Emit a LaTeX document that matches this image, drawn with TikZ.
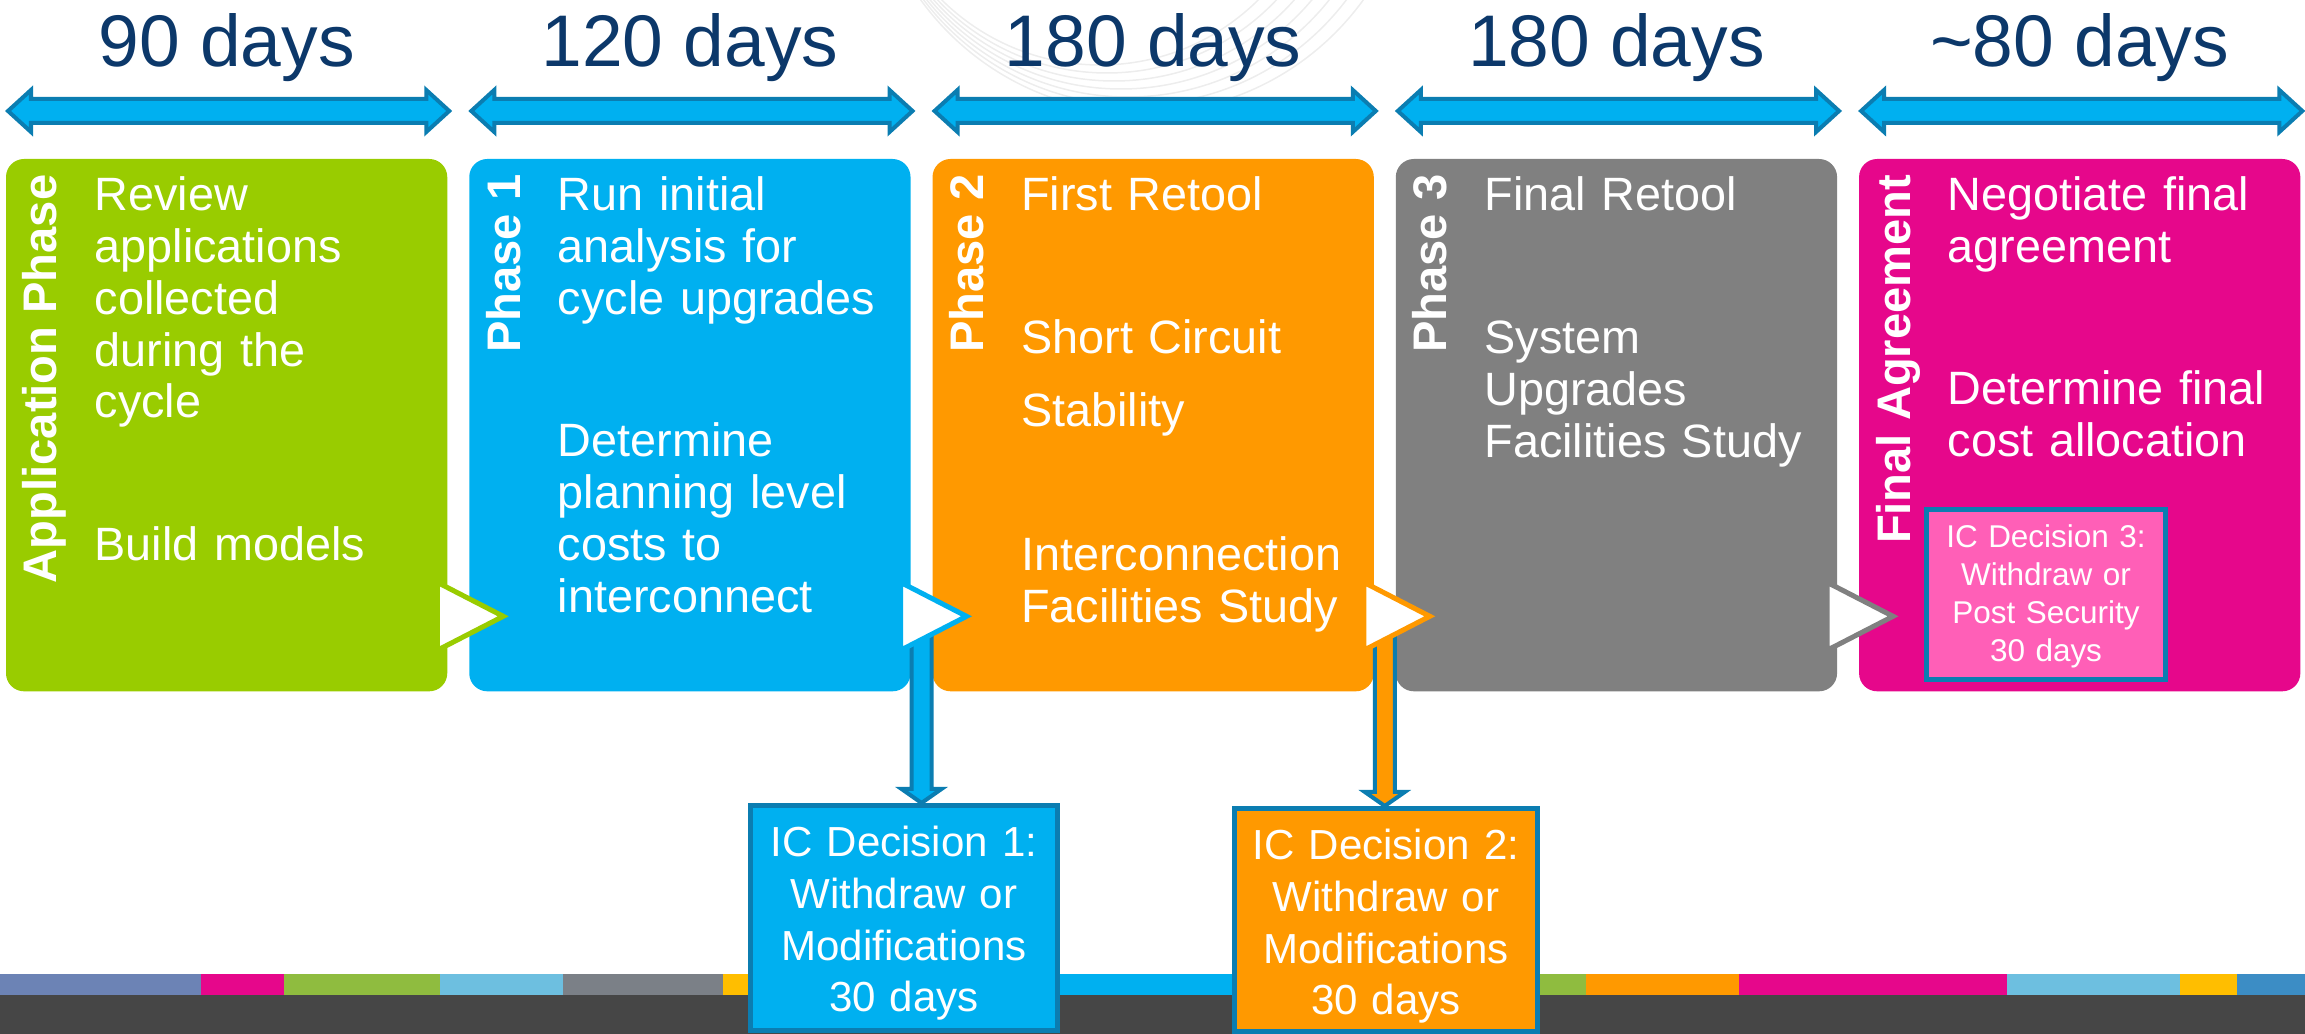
\documentclass[tikz,border=0pt]{standalone}
\usepackage{fontspec}
\setmainfont{Liberation Sans}
\usetikzlibrary{positioning,calc}

\definecolor{appgreen}{HTML}{99CC00}
\definecolor{ph1blue}{HTML}{00B0F0}
\definecolor{ph2orange}{HTML}{FF9900}
\definecolor{ph3gray}{HTML}{808080}
\definecolor{finpink}{HTML}{E6078B}
\definecolor{decpink}{HTML}{FF5FB7}
\definecolor{linkblue}{HTML}{0B7DB1}
\definecolor{spannavy}{HTML}{0C386A}
\definecolor{footgray}{HTML}{464646}
\definecolor{stripeslate}{HTML}{6C83B5}
\definecolor{stripegreen}{HTML}{8FBC3F}
\definecolor{stripesky}{HTML}{6DBFE0}
\definecolor{stripegray}{HTML}{7B8087}
\definecolor{stripegold}{HTML}{FFBE00}
\definecolor{stripesteel}{HTML}{3C8DC5}

\newcommand{\bodyfont}{\fontsize{13.3pt}{14.7pt}\selectfont}
\newcommand{\tagfont}{\fontsize{13.4pt}{14pt}\selectfont\bfseries}
\newcommand{\spanfont}{\fontsize{20.8pt}{24pt}\selectfont}
\newcommand{\decfont}{\fontsize{11.95pt}{14.65pt}\selectfont}
\newcommand{\decsmallfont}{\fontsize{8.95pt}{10.8pt}\selectfont}

\tikzset{
  phasebox/.style={rounded corners=0.18cm, minimum width=4.41cm, minimum height=5.32cm, inner sep=0pt, outer sep=0pt},
  tag/.style={rotate=90, anchor=base east, inner sep=0pt, text=white, font=\tagfont},
  body/.style={anchor=base west, inner sep=0pt, text=white, font=\bodyfont, align=left, text width=3.5cm},
  span/.style={anchor=base, inner sep=0pt, text=spannavy, font=\spanfont},
  spanarrow/.style={draw=linkblue, line width=0.04cm, fill=ph1blue, line join=miter},
  decbox/.style={draw=linkblue, line width=0.05cm, inner sep=0pt, text=white, align=center, anchor=base},
  vlink/.style={draw=linkblue, line width=0.04cm, line join=miter},
  chevron/.style={fill=white, line width=0.05cm, line join=miter},
}

\begin{document}
\begin{tikzpicture}[x=0.01cm, y=-0.01cm]

\useasboundingbox (0,0) rectangle (2305,1034);
\clip (0,0) rectangle (2305,1034);

% faint arcs behind the headings
\foreach \k in {0,...,6} \draw[gray!14, line width=0.015cm] (1100+7*\k,-160) circle [radius=225+8*\k];

% footer
\fill[footgray] (0,995) rectangle (2305,1034);
\foreach \a/\b/\c in {0/201/stripeslate, 201/284/finpink, 284/440/stripegreen, 440/563/stripesky, 563/723/stripegray, 723/750/stripegold, 750/1232/ph1blue, 1232/1540/ph2orange, 1540/1586/stripegreen, 1586/1739/ph2orange, 1739/2007/finpink, 2007/2180/stripesky, 2180/2237/stripegold, 2237/2305/stripesteel}
  \fill[\c] (\a,974) rectangle (\b,995);

% phase boxes
\node[phasebox, fill=appgreen, anchor=north west] (app) at (6,159) {};
\node[phasebox, fill=ph1blue, right=0.22cm of app] (ph1) {};
\node[phasebox, fill=ph2orange, right=0.22cm of ph1] (ph2) {};
\node[phasebox, fill=ph3gray, right=0.22cm of ph2] (ph3) {};
\node[phasebox, fill=finpink, right=0.22cm of ph3] (fin) {};

% durations
\foreach \b/\t in {app/90 days, ph1/120 days, ph2/180 days, ph3/180 days, fin/\textasciitilde80 days}
  \node[span] (t-\b) at ($(\b.north)+(0,-92)$) {\t};

\foreach \b in {app,ph1,ph2,ph3,fin}{
  \coordinate (l) at ($(\b.north west)+(2,-48)$);
  \coordinate (r) at ($(\b.north east)+(2,-48)$);
  \draw[spanarrow] (l) -- ($(l)+(23,-21)$) -- ($(l)+(23,-12)$) -- ($(r)+(-23,-12)$) -- ($(r)+(-23,-21)$) -- (r)
    -- ($(r)+(-23,21)$) -- ($(r)+(-23,12)$) -- ($(l)+(23,12)$) -- ($(l)+(23,21)$) -- cycle;
}

% phase names
\foreach \b/\t in {app/Application Phase, ph1/Phase 1, ph2/Phase 2, ph3/Phase 3, fin/Final Agreement}
  \node[tag] (tag-\b) at ($(\b.north west)+(51,15)$) {\t};

% box contents
\node[body] (app-a) at ($(app.north west)+(88,52)$) {Review\\applications\\collected\\during the\\cycle};
\node[body] (app-b) at ($(app.north west)+(88,402)$) {Build models};
\node[body] (ph1-a) at ($(ph1.north west)+(88,52)$) {Run initial\\analysis for\\cycle upgrades};
\node[body] (ph1-b) at ($(ph1.north west)+(88,298)$) {Determine\\planning level\\costs to\\interconnect};
\node[body] (ph2-a) at ($(ph2.north west)+(88,52)$) {First Retool};
\node[body] (ph2-b) at ($(ph2.north west)+(88,195)$) {Short Circuit};
\node[body] (ph2-c) at ($(ph2.north west)+(88,268)$) {Stability};
\node[body] (ph2-d) at ($(ph2.north west)+(88,412)$) {Interconnection\\Facilities Study};
\node[body] (ph3-a) at ($(ph3.north west)+(88,52)$) {Final Retool};
\node[body] (ph3-b) at ($(ph3.north west)+(88,195)$) {System\\Upgrades\\Facilities Study};
\node[body] (fin-a) at ($(fin.north west)+(88,52)$) {Negotiate final\\agreement};
\node[body] (fin-b) at ($(fin.north west)+(88,246)$) {Determine final\\cost allocation};

% decisions
\node[decbox, fill=ph1blue, text width=3.06cm, text height=0.515cm, text depth=1.73cm, font=\decfont] (dec1) at (904,857) {IC Decision 1:\\Withdraw or\\Modifications\\30 days};
\node[decbox, fill=ph2orange, text width=3.02cm, text height=0.515cm, text depth=1.71cm, font=\decfont] (dec2) at (1386,860) {IC Decision 2:\\Withdraw or\\Modifications\\30 days};

\coordinate (gap1) at ($(ph1.south east)!0.5!(ph2.south west)$);
\coordinate (end1) at (gap1 |- dec1.north);
\draw[vlink, fill=ph1blue] ($(gap1)+(-10,-60)$) -- ($(end1)+(-10,-14)$) -- ($(end1)+(-20,-14)$) -- (end1)
  -- ($(end1)+(20,-14)$) -- ($(end1)+(10,-14)$) -- ($(gap1)+(10,-60)$) -- cycle;

\coordinate (gap2) at ($(ph2.south east)!0.5!(ph3.south west)$);
\coordinate (end2) at (gap2 |- dec2.north);
\draw[vlink, fill=ph2orange] ($(gap2)+(-10,-60)$) -- ($(end2)+(-10,-14)$) -- ($(end2)+(-20,-14)$) -- (end2)
  -- ($(end2)+(20,-14)$) -- ($(end2)+(10,-14)$) -- ($(gap2)+(10,-60)$) -- cycle;

% chevrons between phases
\foreach \b/\c in {app/appgreen, ph1/ph1blue, ph2/ph2orange, ph3/ph3gray}
  \draw[chevron, draw=\c] ($(\b.south east)+(-10,-109)$) -- ($(\b.south east)+(56,-75)$) -- ($(\b.south east)+(-10,-41)$) -- cycle;

\node[decbox, fill=decpink, text width=2.39cm, text height=0.385cm, text depth=1.315cm, font=\decsmallfont] (dec3) at (2046,548) {IC Decision 3:\\Withdraw or\\Post Security\\30 days};

\end{tikzpicture}
\end{document}
